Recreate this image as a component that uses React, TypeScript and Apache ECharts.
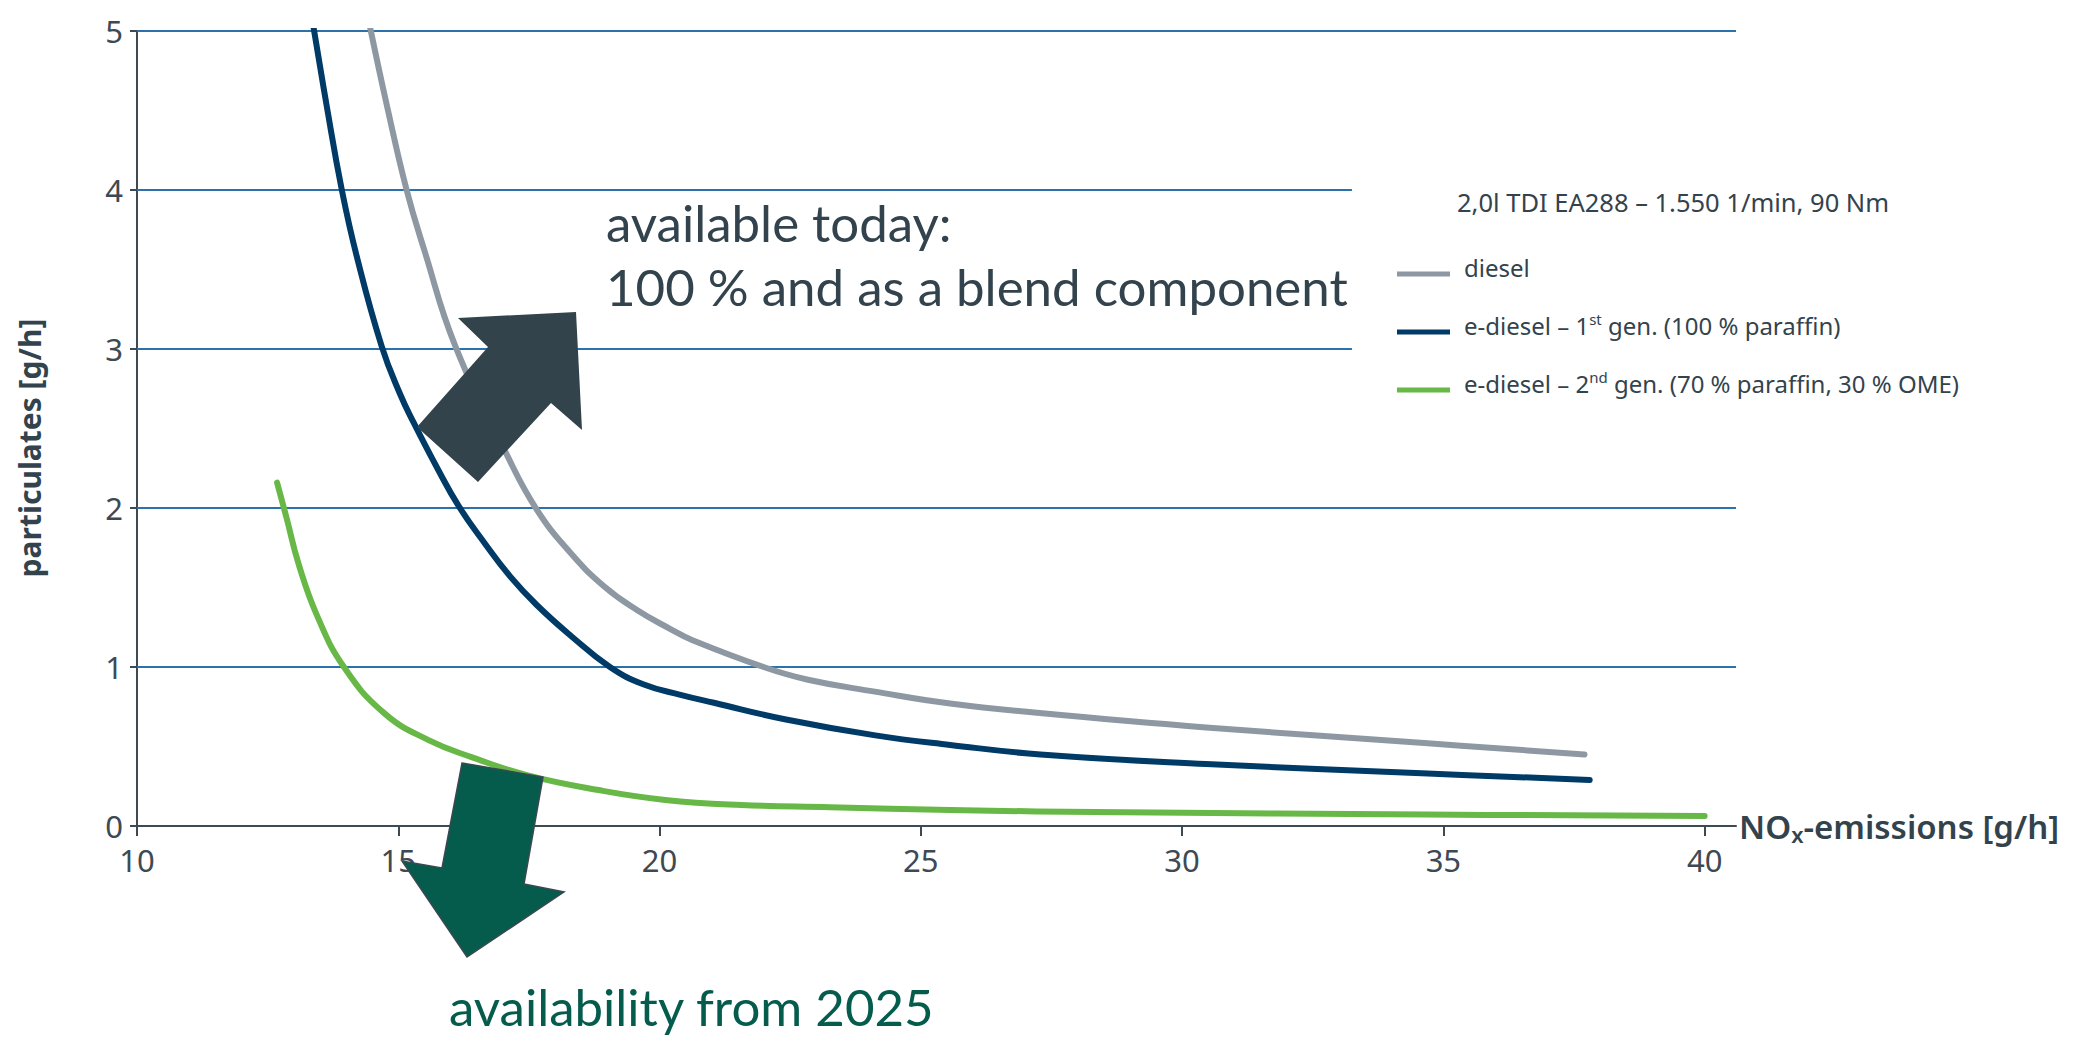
import React, { useEffect, useRef } from "react";
import * as echarts from "echarts";

// NOx emissions [g/h] and particulates [g/h] per fuel
const noxDiesel = [14.45, 14.79, 15.16, 15.5, 16.09, 17.07, 17.65, 18.29, 18.93, 19.56, 20.2, 20.62, 21.99, 22.84, 24.12, 25.56, 27.29, 30.46, 34.7, 37.7];
const pmDiesel = [5.04, 4.52, 4.0, 3.62, 3.02, 2.34, 1.99, 1.72, 1.51, 1.36, 1.24, 1.17, 1.0, 0.92, 0.845, 0.77, 0.71, 0.62, 0.52, 0.45];

const noxGen1 = [13.37, 13.63, 13.92, 14.2, 14.68, 15.03, 15.29, 15.74, 16.16, 16.65, 17.14, 17.65, 18.29, 19.05, 19.7, 20.4, 21.04, 22.42, 24.13, 25.56, 27.29, 30.46, 34.7, 37.8];
const pmGen1 = [5.04, 4.53, 4.0, 3.59, 3.02, 2.72, 2.54, 2.255, 2.01, 1.78, 1.57, 1.39, 1.2, 1.0, 0.89, 0.825, 0.775, 0.67, 0.57, 0.51, 0.45, 0.39, 0.33, 0.29];

const noxGen2 = [12.68, 12.86, 13.1, 13.45, 13.96, 14.73, 15.58, 16.43, 17.46, 18.83, 20.11, 21.56, 23.26, 25.56, 28.88, 34.7, 40.0];
const pmGen2 = [2.16, 1.94, 1.64, 1.32, 1.0, 0.71, 0.54, 0.43, 0.32, 0.226, 0.164, 0.132, 0.118, 0.1, 0.086, 0.072, 0.063];

const xTicks = [10, 15, 20, 25, 30, 35, 40];
const yTicks = [0, 1, 2, 3, 4, 5];
// horizontal guide lines; the ones at 3 and 4 stop short of the legend block
const guideLevels = [1, 2, 3, 4, 5];
const guideShortLevels = [3, 4];

const seriesNames = [
  "diesel",
  "e-diesel – 1st gen. (100 % paraffin)",
  "e-diesel – 2nd gen. (70 % paraffin, 30 % OME)",
];
const legendTitle = "2,0l TDI EA288 – 1.550 1/min, 90 Nm";

const COLORS = ["#8e98a3", "#003a66", "#67b846"];
const GRID_BLUE = "#2b72ad";
const AXIS_DARK = "#3d4a53";
const TEXT_DARK = "#33434d";
const DEEP_GREEN = "#055c4d";
const FONT = '"Noto Sans", "Open Sans", sans-serif';
const HEAD_FONT = 'Lato, "Noto Sans", sans-serif';

const X_MIN = 10;
const X_MAX = 40.6;
const X_SHORT_END = 33.25;

const pairs = (xs: number[], ys: number[]) => xs.map((x, i) => [x, ys[i]]);

const legendLabel = (name: string) => {
  if (name.includes("1st")) return "{t|e-diesel – 1}{s|st}{t| gen. (100 % paraffin)}";
  if (name.includes("2nd")) return "{t|e-diesel – 2}{s|nd}{t| gen. (70 % paraffin, 30 % OME)}";
  return "{t|" + name + "}";
};

// legend key: a short bar sitting in the lower part of its box, so it reads below the label's middle
const LEGEND_KEY = "path://M0,0 L0,0 M0,14 L53,14 L53,19 L0,19 Z";

export default function App() {
  const ref = useRef<HTMLDivElement>(null);

  useEffect(() => {
    if (!ref.current) return;
    const chart = echarts.init(ref.current, undefined, { renderer: "svg" });

    const curve = (name: string, data: number[][], color: string) => ({
      name,
      type: "line",
      data,
      smooth: 0.45,
      showSymbol: false,
      symbol: "none",
      z: 3,
      lineStyle: { color, width: 6, cap: "round", join: "round" },
      itemStyle: { color },
    });

    chart.setOption({
      animation: false,
      grid: { left: 137, right: 2083 - 1736, top: 31, bottom: 1038 - 826, containLabel: false },
      xAxis: {
        type: "value",
        min: X_MIN,
        max: X_MAX,
        interval: 5,
        axisLine: { show: true, lineStyle: { color: AXIS_DARK, width: 2 } },
        axisTick: { show: true, length: 10, customValues: xTicks, lineStyle: { color: AXIS_DARK, width: 2 } },
        axisLabel: {
          customValues: xTicks,
          formatter: (v: number) => (v % 5 === 0 ? String(v) : ""),
          fontFamily: FONT,
          fontSize: 31,
          color: AXIS_DARK,
          margin: 18,
        },
        splitLine: { show: false },
        name: "{b|NO}{sub|x}{b|-emissions [g/h]}",
        nameLocation: "end",
        nameGap: 3,
        nameTextStyle: {
          rich: {
            b: { fontFamily: FONT, fontSize: 33, fontWeight: 600, color: TEXT_DARK, lineHeight: 38 },
            sub: { fontFamily: FONT, fontSize: 22, fontWeight: 600, color: TEXT_DARK, lineHeight: 23, verticalAlign: "bottom" },
          },
        },
      },
      yAxis: {
        type: "value",
        min: 0,
        max: 5,
        interval: 1,
        axisLine: { show: true, lineStyle: { color: AXIS_DARK, width: 2 } },
        axisTick: { show: true, length: 7, lineStyle: { color: AXIS_DARK, width: 2 } },
        axisLabel: { fontFamily: FONT, fontSize: 31, color: AXIS_DARK, margin: 14 },
        splitLine: { show: false },
      },
      legend: {
        orient: "vertical",
        left: 1392,
        top: 250,
        itemWidth: 53,
        itemHeight: 19,
        itemGap: 32,
        icon: LEGEND_KEY,
        selectedMode: false,
        data: seriesNames,
        formatter: legendLabel,
        textStyle: {
          padding: [0, 0, 0, 9],
          rich: {
            t: { fontFamily: FONT, fontSize: 24, color: TEXT_DARK, lineHeight: 28 },
            s: { fontFamily: FONT, fontSize: 15, color: TEXT_DARK, lineHeight: 16, verticalAlign: "top" },
          },
        },
      },
      series: [
        {
          name: "guides",
          type: "lines",
          coordinateSystem: "cartesian2d",
          silent: true,
          z: 1,
          lineStyle: { color: GRID_BLUE, width: 2, opacity: 1 },
          data: guideLevels.map((y) => ({
            coords: [
              [X_MIN, y],
              [guideShortLevels.includes(y) ? X_SHORT_END : X_MAX, y],
            ],
          })),
        },
        curve(seriesNames[0], pairs(noxDiesel, pmDiesel), COLORS[0]),
        curve(seriesNames[1], pairs(noxGen1, pmGen1), COLORS[1]),
        curve(seriesNames[2], pairs(noxGen2, pmGen2), COLORS[2]),
      ],
      graphic: [
        {
          type: "text",
          x: 29,
          y: 448,
          rotation: Math.PI / 2,
          style: {
            text: "particulates [g/h]",
            fontFamily: FONT,
            fontSize: 30,
            fontWeight: 700,
            fill: TEXT_DARK,
            align: "center",
            verticalAlign: "middle",
          },
        },
        {
          type: "text",
          x: 1457,
          y: 202,
          style: {
            text: legendTitle,
            fontFamily: FONT,
            fontSize: 25.5,
            fill: TEXT_DARK,
            align: "left",
            verticalAlign: "middle",
          },
        },
        {
          type: "text",
          x: 606,
          y: 222,
          style: { text: "available today:", fontFamily: HEAD_FONT, fontSize: 51, fill: TEXT_DARK, verticalAlign: "middle" },
        },
        {
          type: "text",
          x: 606,
          y: 286,
          style: {
            text: "100 % and as a blend component",
            fontFamily: HEAD_FONT,
            fontSize: 51,
            fill: TEXT_DARK,
            verticalAlign: "middle",
          },
        },
        {
          type: "polygon",
          z: 100,
          shape: {
            points: [
              [458, 318],
              [576, 312],
              [582, 430],
              [551, 403],
              [478, 482],
              [417, 427],
              [488, 347],
            ],
          },
          style: { fill: "#33434b" },
        },
        {
          type: "polygon",
          z: 100,
          shape: {
            points: [
              [462, 763],
              [543, 777],
              [524, 884],
              [564, 892],
              [467, 957],
              [402, 861],
              [442, 868],
            ],
          },
          style: { fill: DEEP_GREEN, stroke: "#3a4850", lineWidth: 1.5 },
        },
        {
          type: "text",
          x: 449,
          y: 1006,
          style: { text: "availability from 2025", fontFamily: HEAD_FONT, fontSize: 51, fill: DEEP_GREEN, verticalAlign: "middle" },
        },
      ],
    });

    return () => chart.dispose();
  }, []);

  return <div ref={ref} style={{ position: "absolute", left: 0, top: 0, width: 2083, height: 1038 }} />;
}
